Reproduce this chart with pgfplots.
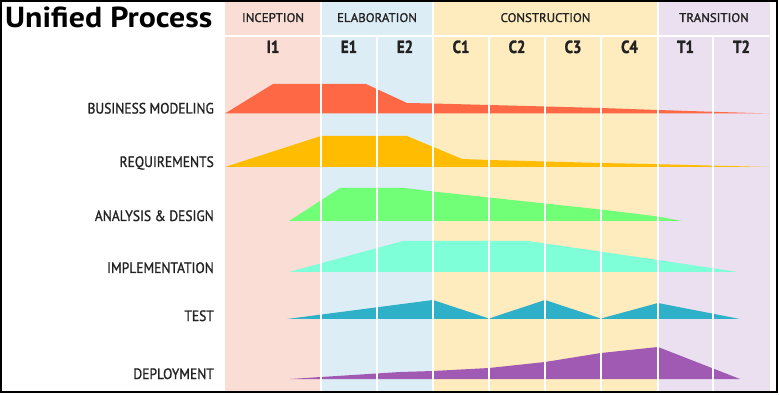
\documentclass[border=0pt]{standalone}
\usepackage{pgfplots}
\pgfplotsset{compat=1.18}
\usepackage{fontspec}
\setmainfont{PT Sans}
\newfontfamily\medfont[FakeBold=1.2]{PT Sans}
\newfontfamily\heavyfont[BoldFeatures={FakeBold=1.6}]{PT Sans}
\definecolor{incep}{RGB}{250,221,212}
\definecolor{elab}{RGB}{221,237,246}
\definecolor{constr}{RGB}{254,235,190}
\definecolor{trans}{RGB}{235,224,240}
\definecolor{bm}{RGB}{255,104,68}
\definecolor{req}{RGB}{255,188,0}
\definecolor{ana}{RGB}{114,255,120}
\definecolor{impl}{RGB}{126,255,215}
\definecolor{tst}{RGB}{46,176,200}
\definecolor{dep}{RGB}{160,90,180}
\definecolor{txt}{RGB}{34,34,34}
\newcommand{\lab}[1]{\medfont\fontsize{15}{15}\selectfont\scalebox{0.9}[1]{#1}}
\newcommand{\phs}[1]{\medfont\fontsize{12.5}{12.5}\selectfont\scalebox{1.03}[1]{#1}}
\newcommand{\itr}[1]{\heavyfont\bfseries\fontsize{17.5}{17.5}\selectfont\scalebox{0.85}[1]{#1}}
\begin{document}
\begin{tikzpicture}
\begin{axis}[
  scale only axis, width=779pt, height=395pt,
  xmin=0, xmax=779, ymin=0, ymax=395, y dir=reverse,
  axis lines=none, xtick=\empty, ytick=\empty, clip=false]
% page background
\addplot[fill=white, draw=none] coordinates {(0,0) (779,0) (779,395) (0,395)} -- cycle;
% phase bands
\addplot[fill=incep, draw=none] coordinates {(225,1) (321,1) (321,391) (225,391)} -- cycle;
\addplot[fill=elab, draw=none] coordinates {(321,1) (433,1) (433,391) (321,391)} -- cycle;
\addplot[fill=constr, draw=none] coordinates {(433,1) (658,1) (658,391) (433,391)} -- cycle;
\addplot[fill=trans, draw=none] coordinates {(658,1) (770,1) (770,391) (658,391)} -- cycle;
% activity workloads
\addplot[fill=bm, draw=none] coordinates {(225,113.5) (273,84) (366,84) (407,103) (433,103.5) (489,105) (545,106.5) (601,108) (658,110) (713,111.8) (770,113.5)} -- cycle;
\addplot[fill=req, draw=none] coordinates {(225,167) (321,136) (407,136) (462,159) (489,160) (545,161.5) (601,163) (658,164.2) (713,165.6) (770,167)} -- cycle;
\addplot[fill=ana, draw=none] coordinates {(289,221) (340,188) (405,188) (433,191.5) (489,197.5) (545,203.5) (601,209.5) (658,216.5) (682,221)} -- cycle;
\addplot[fill=impl, draw=none] coordinates {(289,272) (403,241) (528,241) (658,260) (738,272)} -- cycle;
\addplot[fill=tst, draw=none] coordinates {(287,319) (433,300) (489,318.5) (545,300) (601,318.5) (658,303) (740,319)} -- cycle;
\addplot[fill=dep, draw=none] coordinates {(290,379) (321,377) (400,372) (433,371) (489,368) (545,362) (601,353) (658,347) (740,379)} -- cycle;
% white separators
\addplot[white, line width=2pt] coordinates {(225,36) (770,36)};
\addplot[white, line width=2pt] coordinates {(321,1) (321,391)};
\addplot[white, line width=2pt] coordinates {(433,1) (433,391)};
\addplot[white, line width=2pt] coordinates {(658,1) (658,391)};
\addplot[white, line width=2pt] coordinates {(377,36) (377,391)};
\addplot[white, line width=2pt] coordinates {(489,36) (489,391)};
\addplot[white, line width=2pt] coordinates {(545,36) (545,391)};
\addplot[white, line width=2pt] coordinates {(601,36) (601,391)};
\addplot[white, line width=2pt] coordinates {(713,36) (713,391)};
% frame
\addplot[black, line width=2pt] coordinates {(1,1) (776.5,1) (776.5,391.5) (1,391.5)} -- cycle;
% title
\node[anchor=base west, inner sep=0pt, font=\bfseries\fontsize{29}{29}\selectfont] at (axis cs:5,28) {\scalebox{1.1}[1]{Unified Process}};
% phase headers
\node[anchor=base, inner sep=0pt, text=txt] at (axis cs:273,22) {\phs{INCEPTION}};
\node[anchor=base, inner sep=0pt, text=txt] at (axis cs:377,22) {\phs{ELABORATION}};
\node[anchor=base, inner sep=0pt, text=txt] at (axis cs:545.5,22) {\phs{CONSTRUCTION}};
\node[anchor=base, inner sep=0pt, text=txt] at (axis cs:714,22) {\phs{TRANSITION}};
% iteration headers
\node[anchor=base, inner sep=0pt, text=txt] at (axis cs:273,53) {\itr{I1}};
\node[anchor=base, inner sep=0pt, text=txt] at (axis cs:349,53) {\itr{E1}};
\node[anchor=base, inner sep=0pt, text=txt] at (axis cs:405,53) {\itr{E2}};
\node[anchor=base, inner sep=0pt, text=txt] at (axis cs:461,53) {\itr{C1}};
\node[anchor=base, inner sep=0pt, text=txt] at (axis cs:517,53) {\itr{C2}};
\node[anchor=base, inner sep=0pt, text=txt] at (axis cs:573,53) {\itr{C3}};
\node[anchor=base, inner sep=0pt, text=txt] at (axis cs:629.5,53) {\itr{C4}};
\node[anchor=base, inner sep=0pt, text=txt] at (axis cs:685.5,53) {\itr{T1}};
\node[anchor=base, inner sep=0pt, text=txt] at (axis cs:741.5,53) {\itr{T2}};
% activity labels
\node[anchor=base east, inner sep=0pt, text=txt] at (axis cs:214,113.5) {\lab{BUSINESS MODELING}};
\node[anchor=base east, inner sep=0pt, text=txt] at (axis cs:214,167) {\lab{REQUIREMENTS}};
\node[anchor=base east, inner sep=0pt, text=txt] at (axis cs:214,221) {\lab{ANALYSIS \& DESIGN}};
\node[anchor=base east, inner sep=0pt, text=txt] at (axis cs:214,273) {\lab{IMPLEMENTATION}};
\node[anchor=base east, inner sep=0pt, text=txt] at (axis cs:214,321) {\lab{TEST}};
\node[anchor=base east, inner sep=0pt, text=txt] at (axis cs:214,379) {\lab{DEPLOYMENT}};
\end{axis}
\end{tikzpicture}
\end{document}
